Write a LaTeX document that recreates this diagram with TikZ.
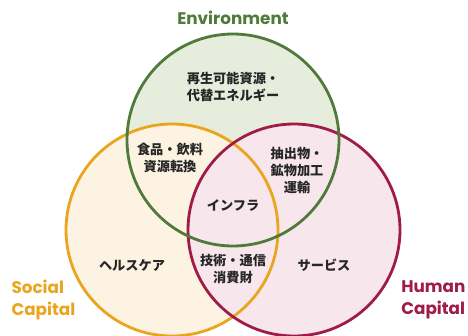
\documentclass[tikz,border=0pt]{standalone}
\usepackage{fontspec}
\newfontfamily\cjk{Noto Sans CJK JP}
\newfontfamily\lab{Poppins}
\definecolor{envc}{HTML}{4F7A3A}
\definecolor{socc}{HTML}{E9A51D}
\definecolor{humc}{HTML}{9E1C45}
\definecolor{envf}{HTML}{E7EDDD}
\definecolor{socf}{HTML}{FDF3E2}
\definecolor{humf}{HTML}{F7E6EB}
\tikzset{
  ring/.style={line width=2.8pt},
  jp/.style={font=\cjk\bfseries\fontsize{13.2}{17}\selectfont, align=center, text=black!85},
  captxt/.style={font=\lab\bfseries\fontsize{16.8}{22.5}\selectfont}
}
\begin{document}
\begin{tikzpicture}[x=1pt,y=-1pt]
\useasboundingbox (0,0) rectangle (468,335);
\begin{scope}[transparency group, blend mode=multiply]
  \fill[envf] (233,140) circle (106);
  \fill[socf] (172,230) circle (106);
  \fill[humf] (294,230) circle (106);
\end{scope}
\node[ring, draw=socc, circle, minimum size=212pt, inner sep=0pt] (soc) at (172,230) {};
\node[ring, draw=humc, circle, minimum size=212pt, inner sep=0pt] (hum) at (294,230) {};
\node[ring, draw=envc, circle, minimum size=212pt, inner sep=0pt] (env) at (233,140) {};
\node[captxt, text=envc] (tenv) at (233,18) {Environment};
\node[captxt, text=socc, align=left, anchor=west] (tsoc) at (8,300) {Social\\Capital};
\node[captxt, text=humc, align=left, anchor=east] (thum) at (469,300) {Human\\Capital};
\node[jp] (a) at (233,87) {再生可能資源・\\代替エネルギー};
\node[jp] (b) at (170,158) {食品・飲料\\資源転換};
\node[jp] (c) at (297,170) {抽出物・\\鉱物加工\\運輸};
\node[jp] (d) at (233,205) {インフラ};
\node[jp] (e) at (132,265) {ヘルスケア};
\node[jp] (f) at (233,269) {技術・通信\\消費財};
\node[jp] (g) at (324,265) {サービス};
\end{tikzpicture}
\end{document}
